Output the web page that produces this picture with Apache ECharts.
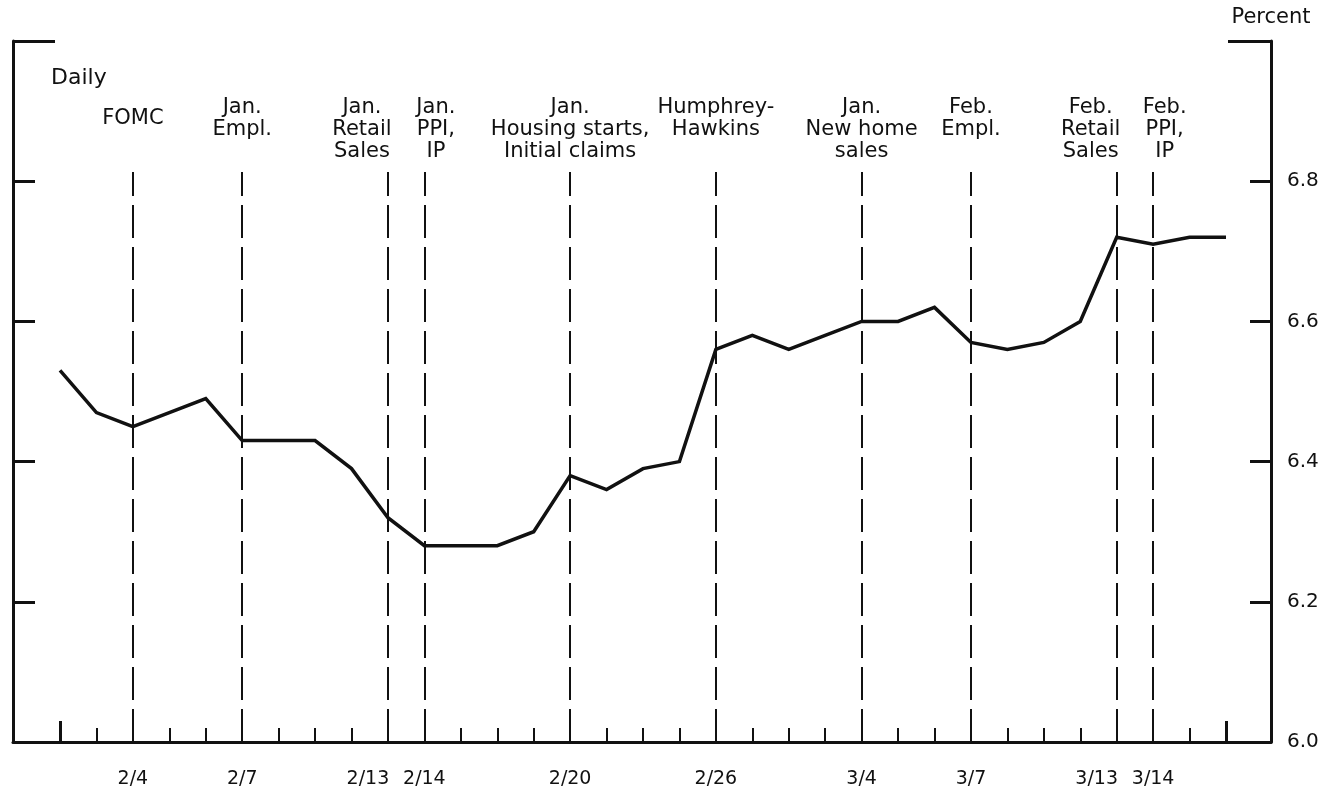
<!DOCTYPE html>
<html>
<head>
<meta charset="utf-8">
<script src="https://cdn.jsdelivr.net/npm/echarts@6/dist/echarts.min.js"></script>
<style>
  html, body { margin: 0; padding: 0; background: #fff; }
  #chart { width: 1340px; height: 797px; }
</style>
</head>
<body>
<div id="chart"></div>
<script>
// Daily yield, one point per trading day
const dayLabels = ['', '', '2/4', '', '', '2/7', '', '', '', '2/13', '2/14', '', '', '',
  '2/20', '', '', '', '2/26', '', '', '', '3/4', '', '', '3/7', '', '', '', '3/13', '3/14', '', ''];
const yields = [6.53, 6.47, 6.45, 6.47, 6.49, 6.43, 6.43, 6.43, 6.39, 6.32, 6.28, 6.28, 6.28,
  6.30, 6.38, 6.36, 6.39, 6.40, 6.56, 6.58, 6.56, 6.58, 6.60, 6.60, 6.62, 6.57, 6.56, 6.57,
  6.60, 6.72, 6.71, 6.72, 6.72];

// Data releases and events, placed on the day they occurred
const eventIndex = [2, 5, 9, 10, 14, 18, 22, 25, 29, 30];
const eventText = ['FOMC', 'Jan.\nEmpl.', 'Jan.\nRetail\nSales', 'Jan.\nPPI,\nIP',
  'Jan.\nHousing starts,\nInitial claims', 'Humphrey-\nHawkins', 'Jan.\nNew home\nsales',
  'Feb.\nEmpl.', 'Feb.\nRetail\nSales', 'Feb.\nPPI,\nIP'];

const yTicks = [6.0, 6.2, 6.4, 6.6, 6.8];

// Styling / layout
const FONT = '"DejaVu Sans", "Liberation Sans", Arial, sans-serif';
const INK = '#111';
const X_MIN = -1.29, X_MAX = 33.235;
const DASH_TOP = 6.813;
// nudges for labels that sit on neighbouring days
const eventStyleFor = { 2: 'm', 9: 'l', 10: 'r', 29: 'l', 30: 'r' };
const dayStyleFor = { 9: 'l', 29: 'l' };

const baseRich = { fontSize: 21, lineHeight: 22, fontFamily: FONT, color: INK };
const eventRich = {
  c: Object.assign({}, baseRich),
  m: Object.assign({}, baseRich, { lineHeight: 44 }),
  l: Object.assign({}, baseRich, { padding: [0, 52, 0, 0] }),
  r: Object.assign({}, baseRich, { padding: [0, 0, 0, 23] })
};
const dayBase = { fontSize: 19, fontFamily: FONT, color: INK };
const dayRich = {
  c: Object.assign({}, dayBase),
  l: Object.assign({}, dayBase, { padding: [0, 40, 0, 0] })
};

const dayIdx = dayLabels.map((_, i) => i);
const labelledDays = dayIdx.filter(i => dayLabels[i] !== '');

const chart = echarts.init(document.getElementById('chart'), null, { renderer: 'canvas' });

chart.setOption({
  animation: false,
  backgroundColor: '#fff',
  title: {
    text: 'Daily', left: 46, top: 62,
    textStyle: { fontFamily: FONT, fontSize: 22, fontWeight: 'normal', color: INK }
  },
  grid: { left: 13, right: 69, top: 41, bottom: 55, containLabel: false },
  xAxis: [
    {
      type: 'value', position: 'bottom', min: X_MIN, max: X_MAX,
      axisLine: { show: true, onZero: false, lineStyle: { color: INK, width: 3 } },
      axisTick: { show: true, inside: true, length: 14, customValues: dayIdx,
        lineStyle: { color: INK, width: 2 } },
      axisLabel: { show: true, customValues: labelledDays.concat([X_MAX]), margin: 28,
        formatter: v => {
          const i = Math.round(v);
          if (!dayLabels[i]) return '';
          return '{' + (dayStyleFor[i] || 'c') + '|' + dayLabels[i] + '}';
        },
        rich: dayRich, fontFamily: FONT, fontSize: 19, color: INK },
      splitLine: { show: false }
    },
    {
      type: 'value', position: 'bottom', min: X_MIN, max: X_MAX,
      axisLine: { show: false, onZero: false },
      axisTick: { show: true, inside: true, length: 21, customValues: [0, dayIdx.length - 1],
        lineStyle: { color: INK, width: 3 } },
      axisLabel: { show: false },
      splitLine: { show: false }
    },
    {
      type: 'value', position: 'top', min: X_MIN, max: X_MAX,
      axisLine: { show: false, onZero: false },
      axisTick: { show: false },
      axisLabel: {
        show: true, inside: true, margin: 56, customValues: eventIndex.concat([X_MAX]),
        formatter: v => {
          const i = Math.round(v);
          const k = eventIndex.indexOf(i);
          if (k < 0) return '';
          const s = eventStyleFor[i] || 'c';
          return eventText[k].split('\n').map(t => '{' + s + '|' + t + '}').join('\n');
        },
        rich: eventRich, fontFamily: FONT, fontSize: 21, color: INK
      },
      splitLine: { show: false }
    }
  ],
  yAxis: [
    {
      type: 'value', position: 'right', min: 6.0, max: 7.0,
      name: 'Percent', nameLocation: 'end', nameGap: 13,
      nameTextStyle: { fontFamily: FONT, fontSize: 21, color: INK },
      axisLine: { show: true, onZero: false, lineStyle: { color: INK, width: 3 } },
      axisTick: { show: true, inside: true, length: 21, customValues: yTicks.slice(1),
        lineStyle: { color: INK, width: 3 } },
      axisLabel: { show: true, customValues: yTicks, margin: 16,
        showMinLabel: true, showMaxLabel: true,
        formatter: v => v.toFixed(1), fontFamily: FONT, fontSize: 20, color: INK },
      splitLine: { show: false }
    },
    {
      type: 'value', position: 'left', min: 6.0, max: 7.0,
      axisLine: { show: true, onZero: false, lineStyle: { color: INK, width: 3 } },
      axisTick: { show: true, inside: true, length: 22, customValues: yTicks.slice(1),
        lineStyle: { color: INK, width: 3 } },
      axisLabel: { show: false },
      splitLine: { show: false }
    },
    {
      type: 'value', position: 'left', min: 6.0, max: 7.0,
      axisLine: { show: false, onZero: false },
      axisTick: { show: true, inside: true, length: 42, customValues: [7.0],
        lineStyle: { color: INK, width: 3 } },
      axisLabel: { show: false },
      splitLine: { show: false }
    },
    {
      type: 'value', position: 'right', min: 6.0, max: 7.0,
      axisLine: { show: false, onZero: false },
      axisTick: { show: true, inside: true, length: 43, customValues: [7.0],
        lineStyle: { color: INK, width: 3 } },
      axisLabel: { show: false },
      splitLine: { show: false }
    }
  ],
  series: [
    {
      type: 'line',
      xAxisIndex: 0, yAxisIndex: 0,
      data: yields.map((v, i) => [i, v]),
      showSymbol: false,
      symbol: 'none',
      lineStyle: { color: INK, width: 3.5, join: 'miter' },
      markLine: {
        silent: true,
        symbol: ['none', 'none'],
        label: { show: false },
        lineStyle: { color: INK, width: 2, type: [33, 9] },
        data: eventIndex.map(i => [{ coord: [i, 6.0] }, { coord: [i, DASH_TOP] }])
      },
      z: 3
    }
  ]
});
</script>
</body>
</html>
